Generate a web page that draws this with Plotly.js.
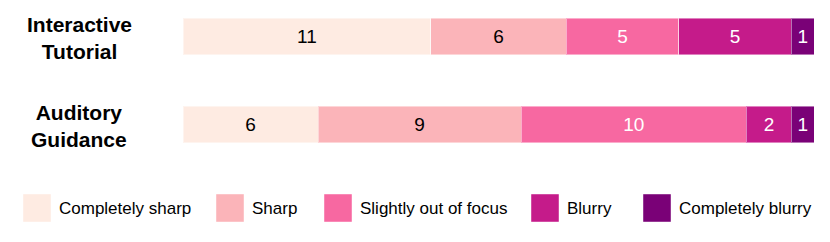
<!DOCTYPE html>
<html>
<head>
<meta charset="utf-8">
<script src="https://cdn.plot.ly/plotly-3.0.1.min.js"></script>
<style>html,body{margin:0;padding:0;background:#fff;}#chart{width:830px;height:242px;}</style>
</head>
<body>
<div id="chart"></div>
<script>
// ---- data ----
const categories = ["Interactive Tutorial", "Auditory Guidance"];
const categoryLabels = ["Interactive<br>Tutorial", "Auditory<br>Guidance"];
const seriesNames = ["Completely sharp", "Sharp", "Slightly out of focus", "Blurry", "Completely blurry"];
const completelySharp = [11, 6];
const sharp = [6, 9];
const slightlyOutOfFocus = [5, 10];
const blurry = [5, 2];
const completelyBlurry = [1, 1];

// ---- styles ----
const colors = ["#feebe2", "#fbb4b9", "#f768a1", "#c51b8a", "#7a0177"];
const textColors = ["#000", "#000", "#fff", "#fff", "#fff"];
const FONT = "Liberation Sans, Arial, Helvetica, sans-serif";
const W = 830, H = 242;
const M = {l: 183, r: 16, t: 5, b: 57};
const plotW = W - M.l - M.r, plotH = H - M.t - M.b;
const px2x = p => (p - M.l) / plotW;
const px2y = p => (H - M.b - p) / plotH;

const seriesValues = [completelySharp, sharp, slightlyOutOfFocus, blurry, completelyBlurry];
const traces = seriesValues.map((vals, i) => ({
  type: "bar",
  orientation: "h",
  name: seriesNames[i],
  y: categories,
  x: vals,
  text: vals.map(String),
  textposition: "inside",
  insidetextanchor: "middle",
  constraintext: "none",
  textfont: {family: FONT, size: 19, color: textColors[i]},
  marker: {color: colors[i], line: {color: "rgba(255,255,255,0.45)", width: 1}},
  hoverinfo: "x+name",
  showlegend: false
}));

// custom legend (large swatches)
const legendSwatchX = [23, 216, 324, 531, 643];
const swTop = 194, swSize = 28;
const shapes = seriesNames.map((n, i) => ({
  type: "rect", xref: "paper", yref: "paper",
  x0: px2x(legendSwatchX[i]), x1: px2x(legendSwatchX[i] + swSize),
  y0: px2y(swTop + swSize), y1: px2y(swTop),
  fillcolor: colors[i],
  line: {color: "rgba(255,255,255,0.45)", width: 1}
}));
const annotations = seriesNames.map((n, i) => ({
  xref: "paper", yref: "paper",
  x: px2x(legendSwatchX[i] + swSize + 6), y: px2y(swTop + swSize / 2),
  xanchor: "left", yanchor: "middle",
  text: n, showarrow: false,
  font: {family: FONT, size: 17, color: "#000"}
})).concat(categories.map((c, i) => ({
  xref: "paper", yref: "y",
  x: px2x(79), y: c, yshift: -1,
  xanchor: "center", yanchor: "middle", align: "center",
  text: "<b>" + categoryLabels[i] + "</b>", showarrow: false,
  font: {family: FONT, size: 21, color: "#000"}
})));

const layout = {
  width: W, height: H,
  margin: M,
  barmode: "stack",
  bargap: 0.58,
  paper_bgcolor: "#fff",
  plot_bgcolor: "#fff",
  showlegend: false,
  xaxis: {range: [0, 28], visible: false, fixedrange: true},
  yaxis: {type: "category", range: [1.6875, -0.358], showticklabels: false,
          showgrid: false, zeroline: false, showline: false, ticks: "", fixedrange: true},
  shapes: shapes,
  annotations: annotations,
  font: {family: FONT}
};

Plotly.newPlot("chart", traces, layout, {displayModeBar: false, staticPlot: true});
</script>
</body>
</html>
